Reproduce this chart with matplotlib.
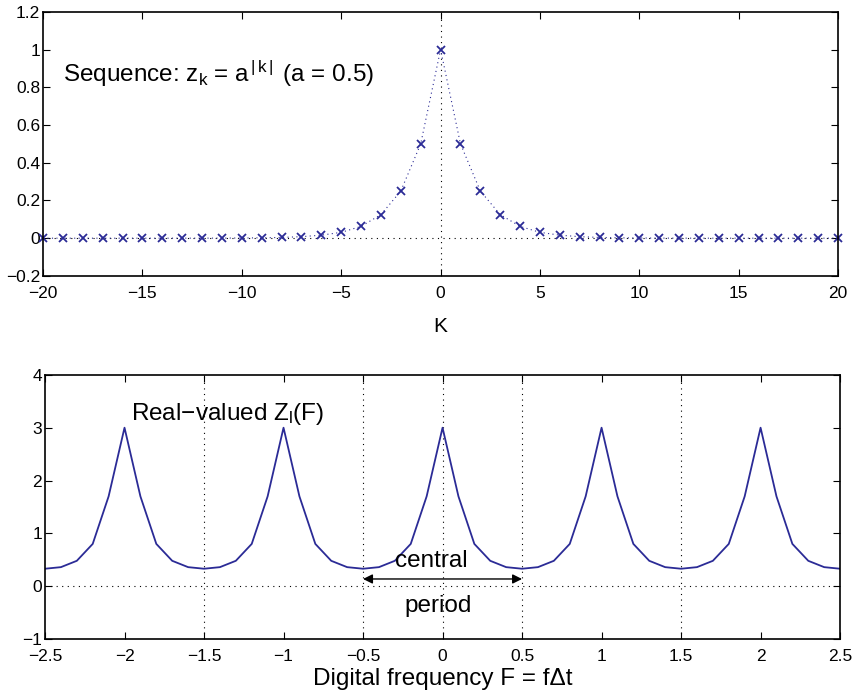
import numpy as np
import matplotlib
matplotlib.use("Agg")
from matplotlib import pyplot as plt

plt.rcParams["font.family"] = ["Liberation Sans", "DejaVu Sans"]
plt.rcParams["mathtext.fontset"] = "custom"
plt.rcParams["mathtext.rm"] = "Liberation Sans"
plt.rcParams["mathtext.it"] = "Liberation Sans"
plt.rcParams["mathtext.default"] = "regular"

BLUE = "#2b2b96"
MINUS = "\u2212"

# top panel: sequence z_k
k_vals = list(range(-20, 21))
z_right = [1.0, 0.5, 0.25, 0.125, 0.0625, 0.031, 0.016, 0.008, 0.004, 0.002,
           0.001, 0.0005, 0.0002, 0.0001, 0.0, 0.0, 0.0, 0.0, 0.0, 0.0, 0.0]
z_vals = z_right[:0:-1] + z_right

# bottom panel: real-valued spectrum Z(F)
f_vals = [round(i / 10, 1) for i in range(-25, 26)]
spec_vals = [
    0.33, 0.36, 0.48, 0.80, 1.70, 3.00, 1.70, 0.80, 0.48, 0.36,
    0.33, 0.36, 0.48, 0.80, 1.70, 3.00, 1.70, 0.80, 0.48, 0.36,
    0.33, 0.36, 0.48, 0.80, 1.70, 3.00, 1.70, 0.80, 0.48, 0.36,
    0.33, 0.36, 0.48, 0.80, 1.70, 3.00, 1.70, 0.80, 0.48, 0.36,
    0.33, 0.36, 0.48, 0.80, 1.70, 3.00, 1.70, 0.80, 0.48, 0.36,
    0.33,
]
grid_f = [-1.5, -0.5, 0, 0.5, 1.5]

top_xticks = [-20, -15, -10, -5, 0, 5, 10, 15, 20]
top_yticks = [-0.2, 0, 0.2, 0.4, 0.6, 0.8, 1, 1.2]
bot_xticks = [-2.5, -2, -1.5, -1, -0.5, 0, 0.5, 1, 1.5, 2, 2.5]
bot_yticks = [-1, 0, 1, 2, 3, 4]


def fmt(v):
    s = f"{v:g}"
    return s.replace("-", MINUS)


fig = plt.figure(figsize=(8.54, 6.95), dpi=100)
ax1 = fig.add_axes([0.0504, 0.603, 0.931, 0.380])
ax2 = fig.add_axes([0.0527, 0.0806, 0.931, 0.380])

for ax in (ax1, ax2):
    ax.tick_params(direction="in", top=True, right=True, length=5,
                   width=0.8, labelsize=12.5)
    ax.tick_params(axis="x", pad=7)
    ax.tick_params(axis="y", pad=2)
    for s in ax.spines.values():
        s.set_linewidth(1.2)

# top
ax1.axhline(0, color="black", linestyle=(0, (1, 4)), linewidth=0.8)
ax1.axvline(0, color="black", linestyle=(0, (1, 4)), linewidth=0.8)
ax1.plot(k_vals, z_vals, color=BLUE, linestyle=(0, (1, 3)), linewidth=0.8,
         marker="x", markersize=6, markeredgewidth=1.3, clip_on=False)
ax1.set_xlim(-20, 20)
ax1.set_ylim(-0.2, 1.2)
ax1.set_xticks(top_xticks)
ax1.set_xticklabels([fmt(v) for v in top_xticks])
ax1.set_yticks(top_yticks)
ax1.set_yticklabels([fmt(v) for v in top_yticks])
ax1.set_xlabel("K", fontsize=15)
ax1.xaxis.set_label_coords(0.5, -0.155)
ax1.text(-19, 0.827, r"Sequence: z$_{\rm k}$ = a$^{\,|\,\rm k\,|\,}$ (a = 0.5)",
         fontsize=17.5, va="baseline", ha="left")

# bottom
ax2.axhline(0, color="black", linestyle=(0, (1, 4)), linewidth=0.8)
for f in grid_f:
    ax2.axvline(f, color="black", linestyle=(0, (1, 4)), linewidth=0.8)
ax2.plot(f_vals, spec_vals, color=BLUE, linewidth=1.3)
ax2.set_xlim(-2.5, 2.5)
ax2.set_ylim(-1, 4)
ax2.set_xticks(bot_xticks)
ax2.set_xticklabels([fmt(v) for v in bot_xticks])
ax2.set_yticks(bot_yticks)
ax2.set_yticklabels([fmt(v) for v in bot_yticks])
ax2.set_xlabel("Digital frequency F = f\u0394t", fontsize=17.5)
ax2.xaxis.set_label_coords(0.5, -0.108)
ax2.text(-1.96, 3.15, "Real" + MINUS + r"valued Z$_{\rm l}$(F)", fontsize=17.5,
         va="baseline", ha="left")
ax2.annotate("", xy=(-0.5, 0.136), xytext=(0.5, 0.136),
             arrowprops=dict(arrowstyle="<|-|>", color="black", lw=1.0,
                             mutation_scale=14, shrinkA=0, shrinkB=0))
ax2.text(-0.07, 0.36, "central", fontsize=17.5, ha="center", va="baseline")
ax2.text(-0.03, -0.49, "period", fontsize=17.5, ha="center", va="baseline")

fig.savefig("out.png", dpi=100)
